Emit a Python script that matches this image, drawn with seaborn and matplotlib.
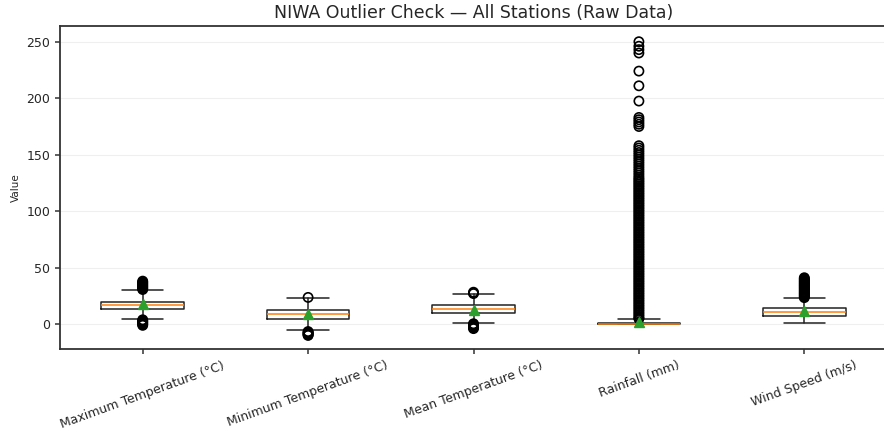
import numpy as np
import pandas as pd
import matplotlib
matplotlib.use("Agg")
import matplotlib.pyplot as plt
import seaborn as sns

# ---- values ----
labels = ["Maximum Temperature (°C)", "Minimum Temperature (°C)",
          "Mean Temperature (°C)", "Rainfall (mm)", "Wind Speed (m/s)"]
whislo = [4.4, -5.0, 0.9, 0.0, 1.4]
q1 = [13.5, 5.0, 10.0, 0.0, 7.6]
med = [17.3, 8.8, 13.3, 0.0, 10.6]
q3 = [20.0, 12.4, 16.8, 1.4, 14.2]
whishi = [30.3, 23.0, 26.8, 4.6, 23.0]
means = [17.6, 8.7, 13.1, 2.3, 11.5]

out_maxt = [30.8, 31.5, 32.2, 33.0, 33.8, 34.5, 35.3, 36.0, 36.8, 37.5, 38.2,
            4.0, 3.3, 2.6, 1.9, 1.2, 0.5, -0.2, -0.9]
out_mint = [23.8, -6.4, -7.0, -7.6, -8.2, -8.8, -9.4, -9.8]
out_meant = [27.2, 27.8, 28.4, 0.5, -0.2, -0.9, -1.6, -2.3, -3.0, -3.8]
out_rain = [250, 246, 243, 240, 224, 211, 197.5, 183, 181, 179, 177, 175,
            158, 156, 154, 152, 150, 148, 146, 144, 142, 140, 138, 136, 134, 132, 130,
            128.5, 127, 125.5, 124, 122.5, 121, 119.5, 118, 116.5, 115, 113.5, 112,
            110.5, 109, 107.5, 106, 104.5, 103, 101.5, 100, 98.5, 97, 95.5, 94,
            92.5, 91, 89.5, 88, 86.5, 85, 83.5, 82, 80.5, 79, 77.5, 76, 74.5, 73,
            71.5, 70, 68.5, 67, 65.5, 64, 62.5, 61, 59.5, 58, 56.5, 55, 53.5, 52,
            50.5, 49, 47.5, 46, 44.5, 43, 41.5, 40, 38.5, 37, 35.5, 34, 32.5, 31,
            29.5, 28, 26.5, 25, 23.5, 22, 20.5, 19, 17.5, 16, 14.5, 13, 11.5, 10,
            8.5, 7, 5.5, 5.0]
out_wind = [23.6, 24.4, 25.2, 26.0, 26.8, 27.6, 28.4, 29.2, 30.0, 30.8, 31.6,
            32.4, 33.2, 34.0, 34.8, 35.6, 36.4, 37.2, 38.0, 38.8, 39.6, 40.4, 41.2]
outliers = [out_maxt, out_mint, out_meant, out_rain, out_wind]

# ---- style ----
sns.set_style("ticks")
plt.rcParams['font.family'] = ['DejaVu Sans']

fig = plt.figure(figsize=(8.84, 4.33), dpi=100)
ax = fig.add_axes([60 / 884, 1 - 349.3 / 433, (887 - 60) / 884, (349.3 - 26) / 433])

stats = []
for i, lab in enumerate(labels):
    stats.append(dict(label=lab, whislo=whislo[i], q1=q1[i], med=med[i], q3=q3[i],
                      whishi=whishi[i], mean=means[i], fliers=[]))

line_col = "#222222"
positions = np.arange(len(labels))
ax.bxp(stats, positions=positions, widths=0.5, showmeans=True, showfliers=False,
       boxprops=dict(color=line_col, linewidth=1.1),
       whiskerprops=dict(color=line_col, linewidth=1.1),
       capprops=dict(color=line_col, linewidth=1.1),
       medianprops=dict(color="#ff7f0e", linewidth=1.1),
       meanprops=dict(marker="^", markerfacecolor="#2ca02c", markeredgecolor="#2ca02c",
                      markersize=6.5, zorder=4))

# outlier points
fl = pd.DataFrame({
    "pos": np.concatenate([[positions[i]] * len(o) for i, o in enumerate(outliers)]),
    "value": np.concatenate([np.asarray(o, dtype=float) for o in outliers]),
})
sns.scatterplot(data=fl, x="pos", y="value", ax=ax, marker="o", s=44,
                facecolors="none", edgecolor="black", linewidth=1.2,
                legend=False, zorder=3)

ax.set_xlim(-0.5, len(labels) - 0.5)
ax.set_ylim(-22.1, 263.9)
ax.set_yticks([0, 50, 100, 150, 200, 250])
ax.set_xticks(positions)
ax.set_xticklabels(labels, rotation=20, fontsize=9)
ax.tick_params(axis="y", labelsize=9)
ax.tick_params(color="#333333", width=1.1)
for sp in ax.spines.values():
    sp.set_color("#333333")
    sp.set_linewidth(1.3)
ax.set_xlabel("")
ax.set_ylabel("Value", fontsize=7.5)
ax.grid(axis="y", alpha=0.3)
ax.set_axisbelow(True)
ax.set_title("NIWA Outlier Check — All Stations (Raw Data)", fontsize=12.5)

fig.savefig("out.png", dpi=100)
